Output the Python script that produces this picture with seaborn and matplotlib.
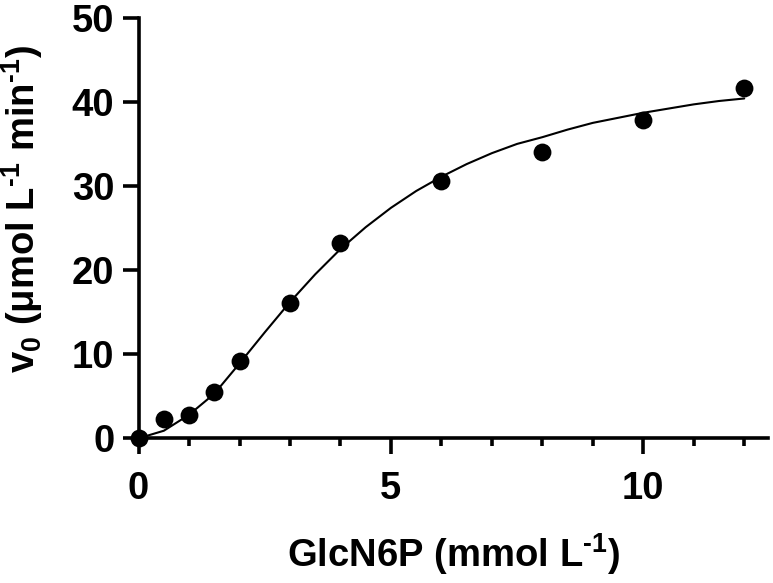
import matplotlib
matplotlib.use("Agg")
import matplotlib.pyplot as plt
import seaborn as sns
import pandas as pd
from matplotlib.ticker import MultipleLocator

# measured data points
glcn6p = [0, 0.5, 1, 1.5, 2, 3, 4, 6, 8, 10, 12]
v0 = [0.0, 2.3, 2.8, 5.5, 9.2, 16.1, 23.2, 30.6, 34.0, 37.8, 41.7]

# fitted curve
fit_x = [0, 0.5, 1, 1.5, 2, 2.5, 3, 3.5, 4, 4.5, 5, 5.5, 6, 6.5, 7, 7.5, 8,
         8.5, 9, 9.5, 10, 10.5, 11, 11.5, 12]
fit_y = [0.0, 0.9, 2.8, 5.3, 8.9, 12.6, 16.2, 19.5, 22.5, 25.1, 27.4, 29.4,
         31.1, 32.6, 33.9, 35.0, 35.8, 36.7, 37.5, 38.1, 38.7, 39.2, 39.7,
         40.1, 40.4]

x_ticks = [0, 5, 10]
y_ticks = [0, 10, 20, 30, 40, 50]

sns.set_style("ticks")
plt.rcParams["font.family"] = ["Liberation Sans", "DejaVu Sans"]
plt.rcParams["font.weight"] = "bold"
plt.rcParams["text.color"] = "black"
plt.rcParams["axes.labelcolor"] = "black"
plt.rcParams["xtick.color"] = "black"
plt.rcParams["ytick.color"] = "black"
plt.rcParams["mathtext.fontset"] = "custom"
plt.rcParams["mathtext.rm"] = "Liberation Sans:bold"
plt.rcParams["mathtext.bf"] = "Liberation Sans:bold"
plt.rcParams["mathtext.it"] = "Liberation Sans:bold"
plt.rcParams["mathtext.default"] = "bf"

FS = 27.5

fig = plt.figure(figsize=(7.73, 5.83), dpi=100)
ax = fig.add_axes([0.1793, 0.2482, 0.8142, 0.7214])

pts = pd.DataFrame({"x": glcn6p, "y": v0})
fit = pd.DataFrame({"x": fit_x, "y": fit_y})

sns.lineplot(data=fit, x="x", y="y", ax=ax, color="black", linewidth=1.5,
             sort=False, clip_on=False)
sns.scatterplot(data=pts, x="x", y="y", ax=ax, color="black", s=165,
                edgecolor="black", linewidth=0, clip_on=False, zorder=5)

ax.set_xlim(0, 12.47)
ax.set_ylim(0, 50)
ax.set_xticks(x_ticks)
ax.set_yticks(y_ticks)
ax.xaxis.set_minor_locator(MultipleLocator(1))

for side in ["top", "right"]:
    ax.spines[side].set_visible(False)
for side in ["left", "bottom"]:
    ax.spines[side].set_linewidth(2.6)
    ax.spines[side].set_color("black")

ax.tick_params(axis="both", which="major", length=11.5, width=2.6,
               color="black", labelcolor="black", labelsize=FS, pad=6)
ax.tick_params(axis="x", which="minor", length=5.8, width=2.6, color="black")
ax.tick_params(axis="x", which="major", pad=12)
for lab in ax.get_xticklabels() + ax.get_yticklabels():
    lab.set_fontweight("bold")

ax.set_xlabel("GlcN6P (mmol L$^{\u20101}$)", fontsize=FS, fontweight="bold",
              color="black")
ax.set_ylabel("v$_{0}$ (μmol L$^{\u20101}$ min$^{\u20101}$)", fontsize=FS,
              fontweight="bold", color="black")
ax.xaxis.set_label_coords(0.5, -0.222)
ax.yaxis.set_label_coords(-0.148, 0.545)

fig.savefig("out.png", dpi=100)
